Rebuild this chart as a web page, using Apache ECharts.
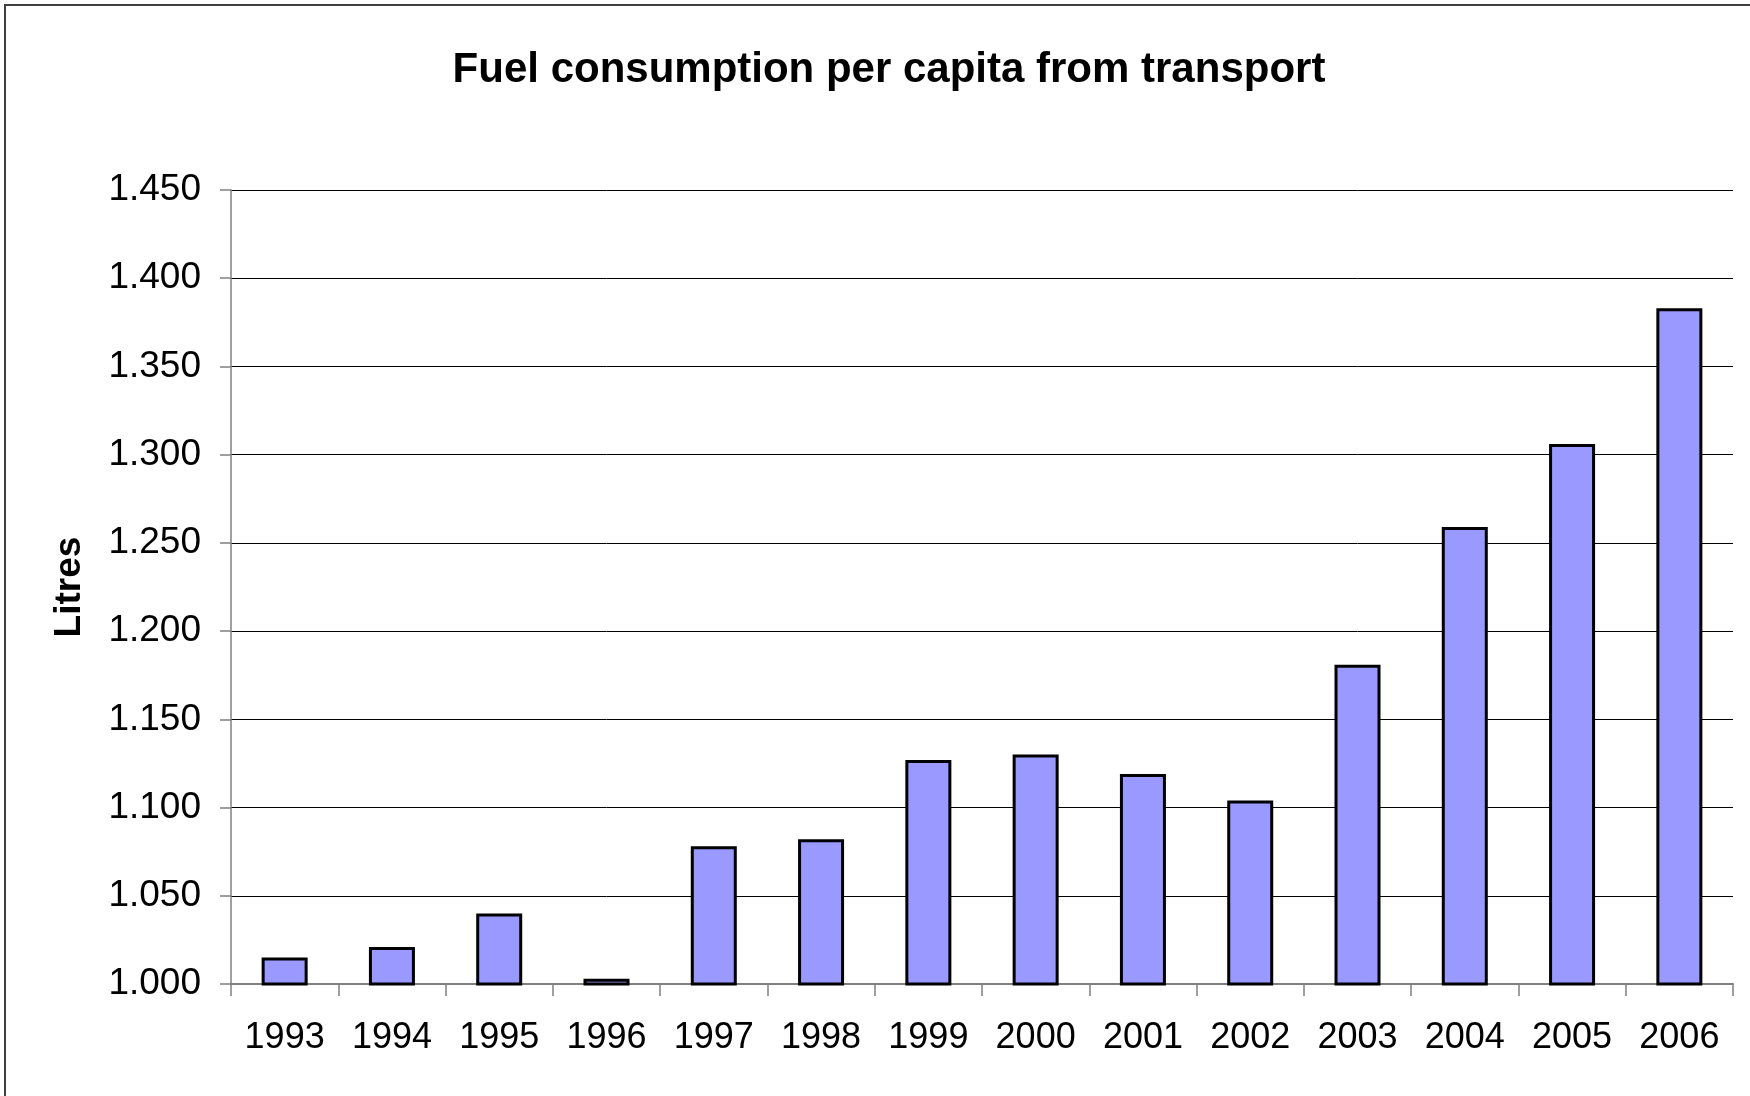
<!DOCTYPE html>
<html>
<head>
<meta charset="utf-8">
<script src="https://cdn.jsdelivr.net/npm/echarts@6/dist/echarts.min.js"></script>
<style>
html,body{margin:0;padding:0;background:#fff;}
#chart{width:1750px;height:1096px;}
</style>
</head>
<body>
<div id="chart"></div>
<script>
const years = ['1993','1994','1995','1996','1997','1998','1999','2000','2001','2002','2003','2004','2005','2006'];
const litres = [1.015, 1.021, 1.040, 1.003, 1.078, 1.082, 1.127, 1.130, 1.119, 1.104, 1.181, 1.259, 1.306, 1.383];
const yMin = 1.000, yMax = 1.450, yStep = 0.050;
const titleText = 'Fuel consumption per capita from transport';
const yName = 'Litres';

const FONT = '"Liberation Sans", Arial, sans-serif';
const chart = echarts.init(document.getElementById('chart'), null, {renderer: 'canvas'});
chart.setOption({
  backgroundColor: '#ffffff',
  animation: false,
  title: {
    text: titleText,
    left: 884,
    top: 44,
    textAlign: 'center',
    textStyle: {fontFamily: FONT, fontSize: 42, fontWeight: 'bold', color: '#000'}
  },
  graphic: [{
    type: 'rect',
    shape: {x: 5, y: 5, width: 2000, height: 2000},
    style: {fill: 'none', stroke: '#404040', lineWidth: 2},
    silent: true
  }],
  grid: {left: 231, right: 17, top: 190, bottom: 112, containLabel: false},
  xAxis: {
    type: 'category',
    data: years,
    boundaryGap: true,
    axisLine: {show: true, lineStyle: {color: '#808080', width: 2}},
    axisTick: {show: true, alignWithLabel: false, length: 12, lineStyle: {color: '#808080', width: 1.5}},
    axisLabel: {fontFamily: FONT, fontSize: 36, color: '#000', margin: 36, lineHeight: 36, interval: 0},
    splitLine: {show: false}
  },
  yAxis: {
    type: 'value',
    min: yMin,
    max: yMax,
    interval: yStep,
    name: yName,
    nameLocation: 'middle',
    nameRotate: 90,
    nameGap: 143,
    nameTextStyle: {fontFamily: FONT, fontSize: 37, fontWeight: 'bold', color: '#000'},
    axisLine: {show: true, lineStyle: {color: '#808080', width: 1.5}},
    axisTick: {show: true, inside: false, length: 11, lineStyle: {color: '#808080', width: 1.5}},
    axisLabel: {
      fontFamily: FONT, fontSize: 37, color: '#000', margin: 30,
      formatter: v => v.toFixed(3)
    },
    splitLine: {show: true, lineStyle: {color: '#000', width: 1}}
  },
  series: [{
    type: 'bar',
    data: litres,
    barWidth: 46,
    itemStyle: {color: '#9999FF', borderColor: '#000', borderWidth: 3},
    z: 3
  }]
});
</script>
</body>
</html>
